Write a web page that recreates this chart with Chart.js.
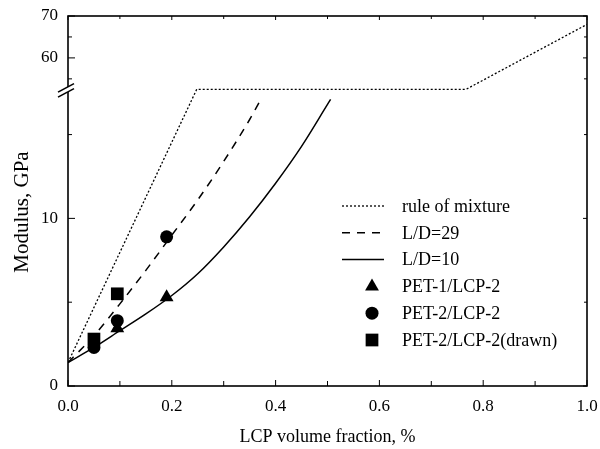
<!DOCTYPE html>
<html>
<head>
<meta charset="utf-8">
<script src="https://cdn.jsdelivr.net/npm/chart.js@4.4.0/dist/chart.umd.min.js"></script>
<style>
  html, body { margin: 0; padding: 0; background: #fff; }
  #wrap { width: 600px; height: 449px; }
</style>
</head>
<body>
<div id="wrap"><canvas id="modulusChart"></canvas></div>
<script>
// modulus (GPa) vs LCP volume fraction
const mixX = [0, 0.248, 0.767, 1.0];
const mixY = [1.4, 17.7, 52.5, 68];

const ld29X = [0, 0.05, 0.1, 0.15, 0.2, 0.25, 0.3, 0.35, 0.368];
const ld29Y = [1.4, 3.0, 4.9, 6.9, 9.0, 11.1, 13.4, 15.9, 16.9];

const ld10X = [0, 0.05, 0.1, 0.15, 0.2, 0.25, 0.3, 0.35, 0.4, 0.45, 0.5, 0.506];
const ld10Y = [1.4, 2.3, 3.3, 4.3, 5.4, 6.7, 8.3, 10.1, 12.1, 14.3, 16.8, 17.1];

const pet1X = [0.095, 0.19];
const pet1Y = [3.45, 5.3];
const pet2X = [0.05, 0.095, 0.19];
const pet2Y = [2.3, 3.9, 8.9];
const drawnX = [0.05, 0.095];
const drawnY = [2.8, 5.5];

const xMajor = [0, 0.2, 0.4, 0.6, 0.8, 1.0];
const xLabels = ['0.0', '0.2', '0.4', '0.6', '0.8', '1.0'];
const xMinor = [0.1, 0.3, 0.5, 0.7, 0.9];
const yMajor = [0, 10, 60, 70];
const yLabels = ['0', '10', '60', '70'];
const yMinor = [5, 15, 55, 65];
const yBreak = [17.7, 52.5];
const yTitle = 'Modulus, GPa';

const SERIF = '"Liberation Serif", "DejaVu Serif", serif';
const upperSqueeze = 0.25;

const pts = (xs, ys) => xs.map((x, i) => ({ x: x, y: ys[i] }));

// y axis with a break: the part between yBreak[0] and yBreak[1] is cut out,
// the upper part is drawn at a quarter of the scale
function squeeze(v) {
  if (v <= yBreak[0]) return v;
  if (v >= yBreak[1]) return yBreak[0] + (v - yBreak[1]) * upperSqueeze;
  return yBreak[0];
}
function unsqueeze(c) {
  if (c <= yBreak[0]) return c;
  return yBreak[1] + (c - yBreak[0]) / upperSqueeze;
}

class BrokenScale extends Chart.LinearScale {
  getPixelForValue(value) {
    const a = squeeze(this.min), b = squeeze(this.max);
    return this.getPixelForDecimal((squeeze(value) - a) / (b - a));
  }
  getValueForPixel(pixel) {
    const a = squeeze(this.min), b = squeeze(this.max);
    return unsqueeze(a + this.getDecimalForPixel(pixel) * (b - a));
  }
}
BrokenScale.id = 'broken';
BrokenScale.defaults = Chart.LinearScale.defaults;
Chart.register(BrokenScale);

function drawMarker(ctx, style, x, y, r) {
  ctx.beginPath();
  if (style === 'triangle') {
    ctx.moveTo(x, y - r);
    ctx.lineTo(x + r * 0.866, y + r * 0.5);
    ctx.lineTo(x - r * 0.866, y + r * 0.5);
    ctx.closePath();
  } else if (style === 'rect') {
    const s = r * Math.SQRT1_2;
    ctx.rect(x - s, y - s, 2 * s, 2 * s);
  } else {
    ctx.arc(x, y, r, 0, Math.PI * 2);
  }
  ctx.fill();
}

const framePlugin = {
  id: 'frame',
  afterDraw(chart) {
    const { ctx, chartArea: a, scales: { x, y } } = chart;
    ctx.save();
    ctx.strokeStyle = '#000';
    ctx.lineWidth = 1.6;
    ctx.strokeRect(a.left, a.top, a.right - a.left, a.bottom - a.top);

    // ticks point inwards
    ctx.lineWidth = 1;
    const seg = (x1, y1, x2, y2) => {
      ctx.beginPath(); ctx.moveTo(x1, y1); ctx.lineTo(x2, y2); ctx.stroke();
    };
    xMajor.forEach(v => {
      const px = x.getPixelForValue(v);
      seg(px, a.bottom, px, a.bottom - 6);
      seg(px, a.top, px, a.top + 4);
    });
    xMinor.forEach(v => {
      const px = x.getPixelForValue(v);
      seg(px, a.bottom, px, a.bottom - 5);
      seg(px, a.top, px, a.top + 3);
    });
    yMajor.forEach(v => {
      const py = y.getPixelForValue(v);
      seg(a.left, py, a.left + 7, py);
      seg(a.right, py, a.right - 4, py);
    });
    yMinor.forEach(v => {
      const py = y.getPixelForValue(v);
      seg(a.left, py, a.left + 4, py);
      seg(a.right, py, a.right - 3, py);
    });

    // axis break marks
    const by = y.getPixelForValue(yBreak[0]);
    const L = a.left;
    const k = 8 / 15;
    ctx.fillStyle = '#fff';
    ctx.beginPath();
    ctx.moveTo(L - 3, by - 2.5 + 3 * k);
    ctx.lineTo(L + 3, by - 2.5 - 3 * k);
    ctx.lineTo(L + 3, by + 2.5 - 3 * k);
    ctx.lineTo(L - 3, by + 2.5 + 3 * k);
    ctx.closePath();
    ctx.fill();
    ctx.lineWidth = 1.6;
    [-2.5, 2.5].forEach(d => seg(L - 10, by + d + 10 * k, L + 6, by + d - 6 * k));

    // y axis title
    ctx.fillStyle = '#000';
    ctx.font = '21px ' + SERIF;
    ctx.textAlign = 'center';
    ctx.textBaseline = 'middle';
    ctx.save();
    ctx.translate(22, 212);
    ctx.rotate(-Math.PI / 2);
    ctx.fillText(yTitle, 0, 0);
    ctx.restore();

    // legend inside the plot
    ctx.font = '18px ' + SERIF;
    ctx.textAlign = 'left';
    chart.data.datasets.forEach((ds, i) => {
      const ry = 206 + i * 26.8;
      if (ds.showLine) {
        ctx.lineWidth = ds.borderWidth;
        ctx.setLineDash(ds.borderDash || []);
        seg(342, ry, 384, ry);
        ctx.setLineDash([]);
      } else {
        drawMarker(ctx, ds.pointStyle, 372, ry, ds.pointRadius);
      }
      ctx.fillText(ds.label, 402, ry + 1);
    });
    ctx.restore();
  }
};

new Chart(document.getElementById('modulusChart'), {
  type: 'scatter',
  data: {
    datasets: [
      { label: 'rule of mixture', data: pts(mixX, mixY), showLine: true, pointRadius: 0,
        borderColor: '#000', borderWidth: 1.3, borderDash: [2, 2], tension: 0, order: 2 },
      { label: 'L/D=29', data: pts(ld29X, ld29Y), showLine: true, pointRadius: 0,
        borderColor: '#000', borderWidth: 1.5, borderDash: [8, 7], cubicInterpolationMode: 'monotone', order: 2 },
      { label: 'L/D=10', data: pts(ld10X, ld10Y), showLine: true, pointRadius: 0,
        borderColor: '#000', borderWidth: 1.5, cubicInterpolationMode: 'monotone', order: 2 },
      { label: 'PET-1/LCP-2', data: pts(pet1X, pet1Y), pointStyle: 'triangle', pointRadius: 8,
        backgroundColor: '#000', borderColor: '#000', borderWidth: 0, order: 1 },
      { label: 'PET-2/LCP-2', data: pts(pet2X, pet2Y), pointStyle: 'circle', pointRadius: 6.5,
        backgroundColor: '#000', borderColor: '#000', borderWidth: 0, order: 1 },
      { label: 'PET-2/LCP-2(drawn)', data: pts(drawnX, drawnY), pointStyle: 'rect', pointRadius: 9,
        backgroundColor: '#000', borderColor: '#000', borderWidth: 0, order: 0 }
    ]
  },
  options: {
    responsive: true,
    maintainAspectRatio: false,
    animation: false,
    layout: { padding: { top: 16, right: 13, left: 0, bottom: 0 } },
    plugins: { legend: { display: false }, tooltip: { enabled: false } },
    scales: {
      x: {
        type: 'linear', min: 0, max: 1,
        afterBuildTicks: s => { s.ticks = xMajor.map(v => ({ value: v })); },
        afterFit: s => { s.height = 63; s.paddingLeft = 0; s.paddingRight = 0; },
        grid: { display: false, drawTicks: false }, border: { display: false },
        ticks: { autoSkip: false, maxRotation: 0, padding: 10, color: '#000',
                 font: { family: SERIF, size: 17 }, callback: (v, i) => xLabels[i] },
        title: { display: true, text: 'LCP volume fraction, %', color: '#000',
                 font: { family: SERIF, size: 18 }, padding: { top: 0, bottom: 1 } }
      },
      y: {
        type: 'broken', min: 0, max: 70,
        afterBuildTicks: s => { s.ticks = yMajor.map(v => ({ value: v })); },
        afterFit: s => { s.width = 68; s.paddingTop = 0; s.paddingBottom = 0; },
        grid: { display: false, drawTicks: false }, border: { display: false },
        ticks: { autoSkip: false, padding: 10, color: '#000',
                 font: { family: SERIF, size: 17 }, callback: (v, i) => yLabels[i] }
      }
    }
  },
  plugins: [framePlugin]
});
</script>
</body>
</html>
